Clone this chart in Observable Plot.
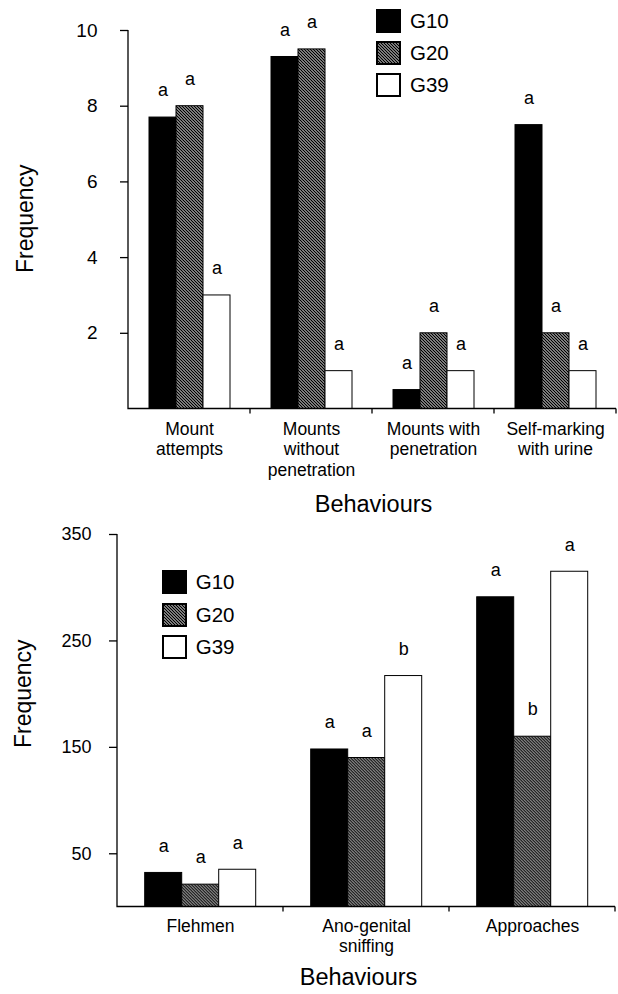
<!DOCTYPE html>
<html><head><meta charset="utf-8">
<script src="https://cdn.jsdelivr.net/npm/d3@7"></script>
<script src="https://cdn.jsdelivr.net/npm/@observablehq/plot@0.6"></script>
<style>
body{margin:0;background:#fff;color:#000;font-family:Arial,"Liberation Sans",sans-serif;}
.panel{position:relative;width:618px;}
.panel svg{display:block;}
.legend{position:absolute;display:flex;flex-direction:column;font-size:20.5px;line-height:24px;}
.row{display:flex;align-items:center;height:24px;}
.row svg{margin-right:9px;}
</style></head><body>
<div id="top" class="panel"></div>
<div id="bottom" class="panel"></div>
<script>
// ---- data ----
const groups = ["G10", "G20", "G39"];

const topCategories = ["Mount attempts", "Mounts without penetration", "Mounts with penetration", "Self-marking with urine"];
const topTickLabels = ["Mount\nattempts", "Mounts\nwithout\npenetration", "Mounts with\npenetration", "Self-marking\nwith urine"];
const topG10 = [7.7, 9.3, 0.5, 7.5];
const topG20 = [8.0, 9.5, 2.0, 2.0];
const topG39 = [3.0, 1.0, 1.0, 1.0];
const topLettersG10 = ["a", "a", "a", "a"];
const topLettersG20 = ["a", "a", "a", "a"];
const topLettersG39 = ["a", "a", "a", "a"];
const topYTicks = [2, 4, 6, 8, 10];

const bottomCategories = ["Flehmen", "Ano-genital sniffing", "Approaches"];
const bottomTickLabels = ["Flehmen", "Ano-genital\nsniffing", "Approaches"];
const bottomG10 = [32, 148, 291];
const bottomG20 = [21, 140, 160];
const bottomG39 = [35, 217, 315];
const bottomLettersG10 = ["a", "a", "a"];
const bottomLettersG20 = ["a", "a", "b"];
const bottomLettersG39 = ["a", "b", "a"];
const bottomYTicks = [50, 150, 250, 350];

const yLabel = "Frequency";
const xLabel = "Behaviours";

// ---- helpers ----
function buildRows(categories, series, letters) {
  const rows = [];
  categories.forEach((c, i) => {
    groups.forEach((g, j) => {
      rows.push({behaviour: c, group: g, value: series[j][i], letter: letters[j][i]});
    });
  });
  return rows;
}

function patternMarkup(id) {
  return `<pattern id="${id}" patternUnits="userSpaceOnUse" width="3" height="3">
    <rect width="3" height="3" fill="#fff"/>
    <path d="M-1,-1L4,4M-1,2L1,4M2,-1L4,1" stroke="#000" stroke-width="1.45"/>
  </pattern>`;
}

function axisLines() {
  return Plot.frame({
    facet: "super",
    render(index, scales) {
      const fx = scales.fx, y = scales.y;
      const dom = fx.domain();
      const bw = fx.bandwidth();
      const x0 = fx(dom[0]);
      const x1 = fx(dom[dom.length - 1]) + bw;
      const yd = y.domain();
      const y0 = y(yd[0]), y1 = y(yd[1]);
      const g = d3.create("svg:g").attr("fill", "none").attr("stroke", "#000").attr("stroke-width", 1.3);
      g.append("path").attr("d", `M${x0},${y1}V${y0}H${x1}`);
      for (const c of dom) {
        const xe = fx(c) + bw;
        g.append("line").attr("x1", xe).attr("x2", xe).attr("y1", y0).attr("y2", y0 + 5);
      }
      return g.node();
    }
  });
}

function legend(el, patternId, left, top, gap) {
  const lg = document.createElement("div");
  lg.className = "legend";
  lg.style.left = left + "px";
  lg.style.top = top + "px";
  lg.style.gap = gap + "px";
  const fills = ["#000", `url(#${patternId})`, "#fff"];
  groups.forEach((g, i) => {
    const row = document.createElement("div");
    row.className = "row";
    row.innerHTML = `<svg width="25" height="24">${i === 1 ? "<defs>" + patternMarkup(patternId) + "</defs>" : ""}
      <rect x="1" y="1" width="23" height="22" fill="${fills[i]}" stroke="#000" stroke-width="2"/></svg><span>${g}</span>`;
    lg.appendChild(row);
  });
  el.appendChild(lg);
}

function makeChart(cfg) {
  const rows = buildRows(cfg.categories, cfg.series, cfg.letters);
  const svg = Plot.plot({
    width: 618,
    height: cfg.height,
    marginTop: cfg.marginTop,
    marginBottom: cfg.marginBottom,
    marginLeft: cfg.marginLeft,
    marginRight: cfg.marginRight,
    style: {fontFamily: 'Arial, "Liberation Sans", sans-serif', color: "#000", background: "#fff", overflow: "visible"},
    fx: {domain: cfg.categories, padding: 0, label: null},
    x: {domain: groups, axis: null, paddingInner: 0, paddingOuter: 0.74},
    y: {domain: [0, cfg.yMax], axis: null},
    color: {domain: groups, range: ["#000", `url(#${cfg.patternId})`, "#fff"]},
    marks: [
      Plot.barY(rows, {fx: "behaviour", x: "group", y: "value", fill: "group", stroke: "#000", strokeWidth: 1, inset: 0}),
      Plot.text(rows, {fx: "behaviour", x: "group", y: "value", text: "letter", dy: -27, fontSize: 18, lineAnchor: "middle"}),
      Plot.axisY({ticks: cfg.yTicks, tickSize: 8, tickPadding: cfg.tickPadding, fontSize: cfg.tickFontSize, label: null, strokeWidth: 1.3}),
      Plot.axisFx({anchor: "bottom", tickSize: 0, tickPadding: cfg.catPadding, fontSize: 17.5, lineHeight: cfg.catLineHeight, label: null,
        tickFormat: c => cfg.tickLabels[cfg.categories.indexOf(c)]}),
      axisLines(),
      Plot.text([yLabel], {frameAnchor: "left", textAnchor: "middle", lineAnchor: "middle", rotate: -90, dx: cfg.freqDx, dy: cfg.freqDy, fontSize: 23, facet: "super"}),
      Plot.text([xLabel], {frameAnchor: "bottom", textAnchor: "middle", lineAnchor: "middle", dy: cfg.behDy, dx: cfg.behDx, fontSize: 23.5, facet: "super"})
    ]
  });
  d3.select(svg).insert("defs", ":first-child").html(patternMarkup(cfg.patternId));
  cfg.el.style.height = cfg.height + "px";
  cfg.el.appendChild(svg);
  legend(cfg.el, cfg.patternId + "L", cfg.legendLeft, cfg.legendTop, cfg.legendGap);
}

makeChart({
  el: document.getElementById("top"),
  categories: topCategories, tickLabels: topTickLabels,
  series: [topG10, topG20, topG39],
  letters: [topLettersG10, topLettersG20, topLettersG39],
  yTicks: topYTicks, yMax: 10,
  height: 520, marginTop: 30, marginBottom: 111.5, marginLeft: 127, marginRight: 2,
  tickPadding: 23, tickFontSize: 19, catPadding: 12, catLineHeight: 1.15,
  freqDx: -103, freqDy: -1, behDy: 95.5, behDx: 1,
  patternId: "hatchTop", legendLeft: 376, legendTop: 9, legendGap: 8
});

makeChart({
  el: document.getElementById("bottom"),
  categories: bottomCategories, tickLabels: bottomTickLabels,
  series: [bottomG10, bottomG20, bottomG39],
  letters: [bottomLettersG10, bottomLettersG20, bottomLettersG39],
  yTicks: bottomYTicks, yMax: 350,
  height: 474, marginTop: 14, marginBottom: 87.5, marginLeft: 116.3, marginRight: 3,
  tickPadding: 18, tickFontSize: 18, catPadding: 11, catLineHeight: 1.15,
  freqDx: -94, freqDy: -27, behDy: 70.5, behDx: -8,
  patternId: "hatchBottom", legendLeft: 161.7, legendTop: 50, legendGap: 8.5
});
</script>
</body></html>
